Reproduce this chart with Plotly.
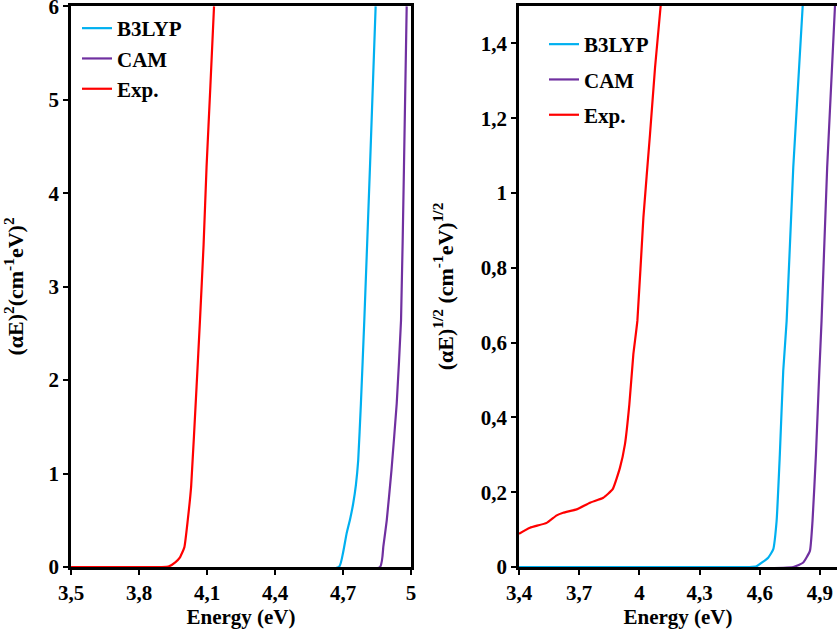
import plotly.graph_objects as go

# ---- Left panel: (alpha E)^2 vs Energy ----
b3_E_sq = [3.5, 4.682, 4.70, 4.716, 4.732, 4.745, 4.757, 4.767, 4.779, 4.794, 4.819, 4.844]
b3_sq = [0, 0, 0.15, 0.36, 0.52, 0.68, 0.88, 1.14, 1.75, 2.64, 4.28, 6.0]
cam_E_sq = [3.5, 4.863, 4.878, 4.893, 4.914, 4.937, 4.956, 4.969, 4.981]
cam_sq = [0, 0, 0.22, 0.5, 1.04, 1.75, 2.64, 4.28, 6.0]
exp_E_sq = [3.5, 3.6, 3.7, 3.8, 3.9, 3.93, 3.96, 3.98, 4.0, 4.015, 4.03, 4.054, 4.069, 4.085, 4.098, 4.115, 4.131]
exp_sq = [0, 0, 0, 0, 0.0, 0.005, 0.05, 0.1, 0.21, 0.5, 0.86, 1.93, 2.64, 3.45, 4.28, 5.15, 6.0]

# ---- Right panel: (alpha E)^1/2 vs Energy ----
b3_E_rt = [3.4, 4.55, 4.584, 4.642, 4.667, 4.684, 4.70, 4.717, 4.734, 4.767, 4.814]
b3_rt = [0, 0, 0.002, 0.025, 0.047, 0.123, 0.30, 0.524, 0.658, 1.068, 1.5]
cam_E_rt = [3.4, 4.767, 4.817, 4.85, 4.863, 4.88, 4.897, 4.908, 4.936, 4.975]
cam_rt = [0, 0, 0.012, 0.043, 0.123, 0.30, 0.524, 0.658, 1.068, 1.5]
exp_E_rt = [3.4, 3.455, 3.538, 3.588, 3.62, 3.687, 3.754, 3.82, 3.867, 3.903, 3.928, 3.95, 3.97, 3.99, 4.02, 4.053, 4.078, 4.106]
exp_rt = [0.089, 0.105, 0.118, 0.138, 0.145, 0.154, 0.172, 0.185, 0.208, 0.265, 0.328, 0.435, 0.569, 0.658, 0.934, 1.157, 1.335, 1.5]

series_names = ["B3LYP", "CAM", "Exp."]
colors = ["#00B0F0", "#7030A0", "#FF0000"]

# tick labels
left_xticks = [3.5, 3.8, 4.1, 4.4, 4.7, 5.0]
left_xtext = ["3,5", "3,8", "4,1", "4,4", "4,7", "5"]
left_yticks = [0, 1, 2, 3, 4, 5, 6]
left_ytext = ["0", "1", "2", "3", "4", "5", "6"]
right_xticks = [3.4, 3.7, 4.0, 4.3, 4.6, 4.9]
right_xtext = ["3,4", "3,7", "4", "4,3", "4,6", "4,9"]
right_yticks = [0, 0.2, 0.4, 0.6, 0.8, 1.0, 1.2, 1.4]
right_ytext = ["0", "0,2", "0,4", "0,6", "0,8", "1", "1,2", "1,4"]

FAM = "Liberation Serif, Times New Roman, serif"
fig = go.Figure()

left_data = [(b3_E_sq, b3_sq), (cam_E_sq, cam_sq), (exp_E_sq, exp_sq)]
right_data = [(b3_E_rt, b3_rt), (cam_E_rt, cam_rt), (exp_E_rt, exp_rt)]
draw_order = [1, 0, 2]
for i in draw_order:
    x, y = left_data[i]
    fig.add_trace(go.Scatter(x=x, y=y, mode="lines", name=series_names[i],
                             line=dict(color=colors[i], width=2.2, shape="spline", smoothing=0.4),
                             xaxis="x", yaxis="y", legend="legend", legendrank=i + 1,
                             legendgroup="L" + str(i)))
for i in draw_order:
    x, y = right_data[i]
    fig.add_trace(go.Scatter(x=x, y=y, mode="lines", name=series_names[i],
                             line=dict(color=colors[i], width=2.2, shape="spline", smoothing=0.4),
                             xaxis="x2", yaxis="y2", legend="legend2", legendrank=i + 1,
                             legendgroup="R" + str(i)))

tickfont = dict(family=FAM, size=21, color="black", weight="bold")
titlefont = dict(family=FAM, size=21, color="black", weight="bold")
ytitlefont = dict(family=FAM, size=22, color="black", weight="bold")
axis_common = dict(showline=True, linecolor="black", linewidth=2.5, ticks="outside",
                   ticklen=5, tickwidth=2, tickcolor="black", showgrid=False,
                   zeroline=False, tickfont=tickfont, automargin=False,
                   ticklabeloverflow="allow")

L, R, T, B = 71, 0, 6, 69
PW = 837 - L - R
PH = 636 - T - B

fig.update_layout(
    width=837, height=636,
    margin=dict(l=L, r=R, t=T, b=B),
    paper_bgcolor="white", plot_bgcolor="white",
    xaxis=dict(domain=[0, (411 - L) / PW], range=[3.5, 5.0], tickvals=left_xticks,
               ticktext=left_xtext, mirror=True, anchor="y",
               title=dict(text="Energy (eV)", font=titlefont, standoff=6), **axis_common),
    yaxis=dict(domain=[0, 1], range=[0, 6.004], tickvals=left_yticks,
               ticktext=left_ytext, mirror=True, anchor="x",
               title=dict(text="(αE)<sup>2</sup>(cm<sup>-1</sup>eV)<sup>2</sup>", font=ytitlefont, standoff=24),
               **axis_common),
    xaxis2=dict(domain=[(519 - L) / PW, 1.0], range=[3.4, 4.985], tickvals=right_xticks,
                ticktext=right_xtext, mirror=True, anchor="y2",
                title=dict(text="Energy (eV)", font=titlefont, standoff=6), **axis_common),
    yaxis2=dict(domain=[0, 1], range=[0, 1.5], tickvals=right_yticks,
                ticktext=right_ytext, mirror=False, anchor="x2",
                title=dict(text="(αE)<sup>1/2</sup> (cm<sup>-1</sup>eV)<sup>1/2</sup>", font=ytitlefont, standoff=22),
                **axis_common),
    legend=dict(x=6 / PW, y=1 - 2 / PH, xanchor="left", yanchor="top",
                bgcolor="rgba(0,0,0,0)", font=dict(family=FAM, size=21, color="black", weight="bold"),
                traceorder="grouped", tracegroupgap=0, itemwidth=30),
    legend2=dict(x=(544 - L) / PW, y=1 - 18 / PH, xanchor="left", yanchor="top",
                 bgcolor="rgba(0,0,0,0)", font=dict(family=FAM, size=21, color="black", weight="bold"),
                 traceorder="grouped", tracegroupgap=5, itemwidth=30),
)

fig.write_html("out.html", config={"displayModeBar": False},
               post_script="document.body.style.margin='0';document.body.style.overflow='hidden';")
